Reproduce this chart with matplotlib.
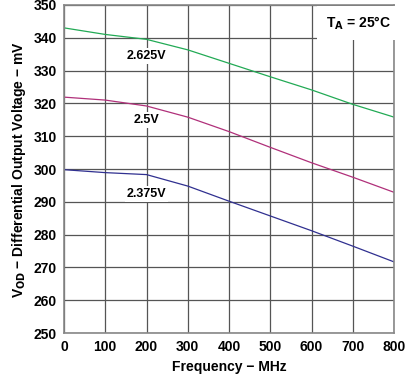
import matplotlib
matplotlib.use("Agg")
import matplotlib.pyplot as plt

plt.rcParams["font.family"] = ["Liberation Sans", "DejaVu Sans"]
plt.rcParams["font.weight"] = "bold"

freq = [0, 100, 200, 300, 400, 500, 600, 700, 800]
v2625 = [343.0, 341.0, 339.5, 336.3, 332.2, 328.1, 324.1, 319.7, 315.8]
v2500 = [321.9, 321.0, 319.2, 315.8, 311.4, 306.6, 301.9, 297.5, 292.9]
v2375 = [299.8, 298.9, 298.3, 294.8, 290.2, 285.7, 281.2, 276.5, 271.7]

fig = plt.figure(figsize=(4.05, 3.76), dpi=100)
ax = fig.add_axes([0.158, 0.114, 0.815, 0.873])

ax.plot(freq, v2625, color="#22aa55", lw=0.9)
ax.plot(freq, v2500, color="#b0307a", lw=0.9)
ax.plot(freq, v2375, color="#303090", lw=0.9)

ax.set_xlim(0, 800)
ax.set_ylim(250, 350)
ax.set_xticks(range(0, 801, 100))
ax.set_yticks(range(250, 351, 10))
ax.grid(True, color="#555555", lw=0.9)
ax.tick_params(length=0, labelsize=10, pad=5)
for s in ax.spines.values():
    s.set_color("#888888")
    s.set_linewidth(1.2)

box = dict(facecolor="white", edgecolor="none", pad=1.5)
ax.text(200, 334.5, "2.625V", ha="center", va="center", fontsize=9, fontweight="bold", bbox=box)
ax.text(200, 315, "2.5V", ha="center", va="center", fontsize=9, fontweight="bold", bbox=box)
ax.text(200, 292.5, "2.375V", ha="center", va="center", fontsize=9, fontweight="bold", bbox=box)
ax.text(792, 344.5, r"T$_\mathbf{A}$ = 25°C", ha="right", va="center", fontsize=10,
        fontweight="bold", bbox=dict(facecolor="white", edgecolor="none", pad=6))

ax.set_xlabel("Frequency \u2212 MHz", fontsize=10, fontweight="bold", labelpad=4)
ax.set_ylabel("V$_\\mathbf{OD}$ \u2212 Differential Output Voltage \u2212 mV",
              fontsize=10, fontweight="bold", labelpad=4)

fig.savefig("out.png", dpi=100)
